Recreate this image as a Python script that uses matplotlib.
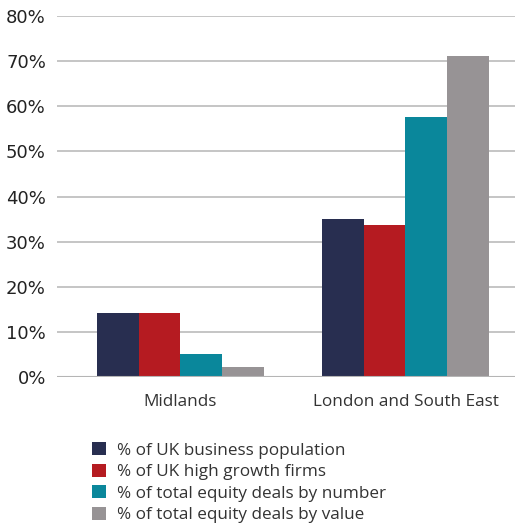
import matplotlib
matplotlib.use("Agg")
import matplotlib.pyplot as plt
import numpy as np
from matplotlib.ticker import FuncFormatter

categories = ["Midlands", "London and South East"]
series_names = ["% of UK business population", "% of UK high growth firms",
                "% of total equity deals by number", "% of total equity deals by value"]
business_pop = [14.2, 35.0]
high_growth = [14.2, 33.7]
deals_number = [5.1, 57.6]
deals_value = [2.2, 71.1]
yticks = [0, 10, 20, 30, 40, 50, 60, 70, 80]

series = [business_pop, high_growth, deals_number, deals_value]
colors = ["#282e50", "#b51b21", "#0a879b", "#979395"]

plt.rcParams['font.family'] = ['Open Sans', 'DejaVu Sans']

W, H = 515, 528
fig = plt.figure(figsize=(W/100, H/100), dpi=100)
ax = fig.add_axes([57/W, (H-377)/H, (515-57)/W, (377-16)/H])

x = np.arange(len(categories))
bw = 0.742 / 4
for i, (vals, c, name) in enumerate(zip(series, colors, series_names)):
    ax.bar(x + (i - 1.5) * bw, vals, bw, color=c, label=name, zorder=3, linewidth=0)

ax.set_xlim(-0.549, 1.487)
ax.set_ylim(0, 80)
ax.set_yticks(yticks)
ax.grid(axis='y', color='#c0c0c0', linewidth=1.3, zorder=0)
ax.axhline(0, color='#b5b5b5', linewidth=1.5, zorder=4)
for s in ax.spines.values():
    s.set_visible(False)
ax.tick_params(axis='y', length=0, pad=8)
ax.tick_params(axis='x', length=0, pad=12)
ax.set_xticks(x)
ax.set_xticklabels(categories, fontsize=12.3, color='#333333')
ax.set_yticklabels([f"{v}%" for v in yticks], family=['DejaVu Sans'], fontsize=13, color='#222222')

handles, labels = ax.get_legend_handles_labels()
leg = fig.legend(handles, labels, loc='upper left', bbox_to_anchor=(92/W, (H-442)/H),
                 frameon=False, fontsize=12.3, handlelength=0.82, handleheight=0.82,
                 handletextpad=0.64, labelspacing=0.29, borderaxespad=0, borderpad=0)
for t in leg.get_texts():
    t.set_color('#333333')

fig.savefig("out.png", dpi=100)
